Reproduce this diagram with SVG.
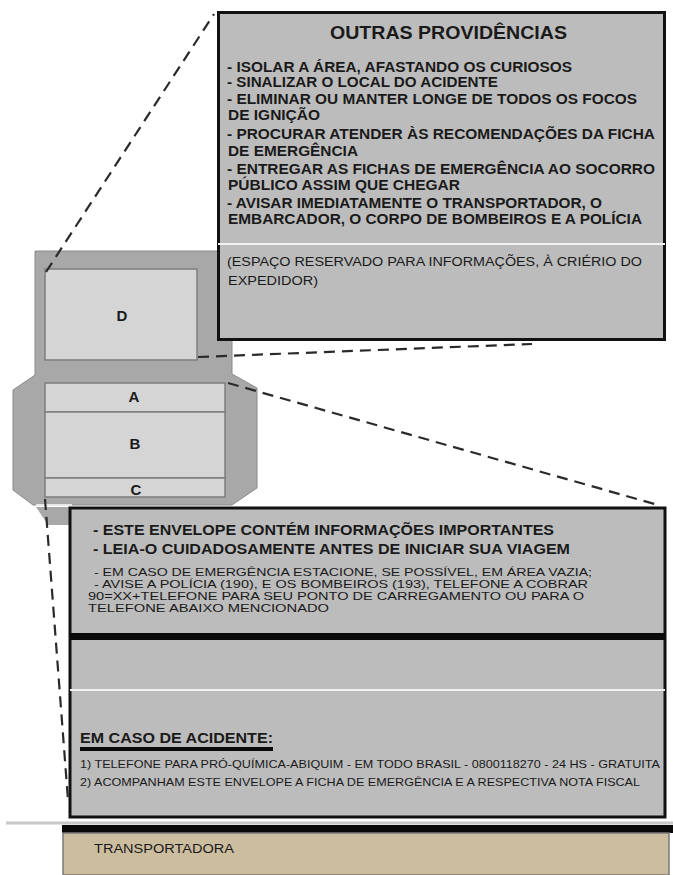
<svg xmlns="http://www.w3.org/2000/svg" width="673" height="875" viewBox="0 0 673 875">
<style>
text{font-family:"Liberation Sans",Arial,sans-serif;fill:#1a1a1a}
.b{font-weight:bold}
.t14{font-size:14px;font-weight:bold}
.t12{font-size:12px}
.t10{font-size:10.5px}
.t11{font-size:11px}
.lbl{font-size:15px;font-weight:bold;text-anchor:middle}
.inner{fill:#d5d5d5;stroke:#7d7d7d;stroke-width:1.5}
.box{fill:#bcbcbc;stroke:#111;stroke-width:3}
.dash{fill:none;stroke:#2a2a2a;stroke-width:2.2;stroke-dasharray:11 7}
.wl{stroke:#f2f2f2;stroke-width:2}
</style>
<rect width="673" height="875" fill="#ffffff"/>
<g id="envelope">
<polygon points="35,251 232,251 232,374 257,388 257,488 232,505 33,505 13,490 13,390 35,375" fill="#a8a8a8" stroke="#8a8a8a" stroke-width="1"/>
<polygon points="36,507 72,507 72,525 48,525" fill="#a8a8a8"/>
<line x1="36" y1="505" x2="72" y2="505" stroke="#e8e8e8" stroke-width="2"/>
</g>
<g id="node-D">
<rect class="inner" x="45" y="269" width="152" height="91"/>
<text class="lbl" x="122" y="321">D</text>
</g>
<g id="node-A">
<rect class="inner" x="45" y="383" width="180" height="29"/>
<text class="lbl" x="134" y="402">A</text>
</g>
<g id="node-B">
<rect class="inner" x="45" y="412" width="180" height="66"/>
<text class="lbl" x="135" y="449">B</text>
</g>
<g id="node-C">
<rect class="inner" x="45" y="478" width="180" height="19"/>
<text class="lbl" x="136" y="495">C</text>
</g>
<g id="node-outras">
<rect class="box" x="218.5" y="12.5" width="446" height="327"/>
<line class="wl" x1="218" y1="244" x2="665" y2="244"/>
<text class="b" x="330" y="38.5" font-size="18" textLength="237" lengthAdjust="spacingAndGlyphs">OUTRAS PROVIDÊNCIAS</text>
<text class="t14" x="227" y="72" textLength="345" lengthAdjust="spacingAndGlyphs">- ISOLAR A ÁREA, AFASTANDO OS CURIOSOS</text>
<text class="t14" x="227" y="87" textLength="271" lengthAdjust="spacingAndGlyphs">- SINALIZAR O LOCAL DO ACIDENTE</text>
<text class="t14" x="227" y="104" textLength="410" lengthAdjust="spacingAndGlyphs">- ELIMINAR OU MANTER LONGE DE TODOS OS FOCOS</text>
<text class="t14" x="228" y="120" textLength="92" lengthAdjust="spacingAndGlyphs">DE IGNIÇÃO</text>
<text class="t14" x="227" y="139" textLength="428" lengthAdjust="spacingAndGlyphs">- PROCURAR ATENDER ÀS RECOMENDAÇÕES DA FICHA</text>
<text class="t14" x="228" y="156" textLength="130" lengthAdjust="spacingAndGlyphs">DE EMERGÊNCIA</text>
<text class="t14" x="227" y="174" textLength="428" lengthAdjust="spacingAndGlyphs">- ENTREGAR AS FICHAS DE EMERGÊNCIA AO SOCORRO</text>
<text class="t14" x="228" y="190" textLength="232" lengthAdjust="spacingAndGlyphs">PÚBLICO ASSIM QUE CHEGAR</text>
<text class="t14" x="227" y="208" textLength="375" lengthAdjust="spacingAndGlyphs">- AVISAR IMEDIATAMENTE O TRANSPORTADOR, O</text>
<text class="t14" x="228" y="224" textLength="414" lengthAdjust="spacingAndGlyphs">EMBARCADOR, O CORPO DE BOMBEIROS E A POLÍCIA</text>
<text class="t12" x="227" y="265.5" textLength="415" lengthAdjust="spacingAndGlyphs">(ESPAÇO RESERVADO PARA INFORMAÇÕES, À CRIÉRIO DO</text>
<text class="t12" x="228" y="284.5" textLength="90" lengthAdjust="spacingAndGlyphs">EXPEDIDOR)</text>
</g>
<g id="node-envelope-info">
<rect class="box" x="70" y="508" width="595" height="309"/>
<rect x="70" y="633" width="595" height="7" fill="#0a0a0a"/>
<line class="wl" x1="70" y1="690" x2="665" y2="690"/>
<text class="t14" x="93" y="535" textLength="461" lengthAdjust="spacingAndGlyphs">- ESTE ENVELOPE CONTÉM INFORMAÇÕES IMPORTANTES</text>
<text class="t14" x="93" y="554" textLength="477" lengthAdjust="spacingAndGlyphs">- LEIA-O CUIDADOSAMENTE ANTES DE INICIAR SUA VIAGEM</text>
<text class="t10" x="94" y="576" textLength="498" lengthAdjust="spacingAndGlyphs">- EM CASO DE EMERGÊNCIA ESTACIONE, SE POSSÍVEL, EM ÁREA VAZIA;</text>
<text class="t10" x="94" y="588" textLength="494" lengthAdjust="spacingAndGlyphs">- AVISE A POLÍCIA (190), E OS BOMBEIROS (193), TELEFONE A COBRAR</text>
<text class="t10" x="88" y="600" textLength="496" lengthAdjust="spacingAndGlyphs">90=XX+TELEFONE PARA SEU PONTO DE CARREGAMENTO OU PARA O</text>
<text class="t10" x="88" y="612" textLength="241" lengthAdjust="spacingAndGlyphs">TELEFONE ABAIXO MENCIONADO</text>
<text class="b" x="80" y="742.5" font-size="15" textLength="193" lengthAdjust="spacingAndGlyphs">EM CASO DE ACIDENTE:</text>
<rect x="80" y="747" width="193" height="4" fill="#0a0a0a"/>
<text class="t11" x="80" y="768" textLength="580" lengthAdjust="spacingAndGlyphs">1) TELEFONE PARA PRÓ-QUÍMICA-ABIQUIM - EM TODO BRASIL - 0800118270 - 24 HS - GRATUITA</text>
<text class="t11" x="80" y="786" textLength="560" lengthAdjust="spacingAndGlyphs">2) ACOMPANHAM ESTE ENVELOPE A FICHA DE EMERGÊNCIA E A RESPECTIVA NOTA FISCAL</text>
</g>
<g id="node-transportadora">
<line x1="6" y1="823" x2="673" y2="823" stroke="#c8c8c8" stroke-width="3"/>
<rect x="62" y="825" width="611" height="8" fill="#0a0a0a"/>
<rect x="63" y="833" width="606" height="42" fill="#cbbd9e" stroke="#7a7a7a" stroke-width="1.5"/>
<text class="t12" x="94" y="853" textLength="140" lengthAdjust="spacingAndGlyphs">TRANSPORTADORA</text>
</g>
<g id="connectors">
<line class="dash" x1="46" y1="272" x2="214" y2="14"/>
<line class="dash" x1="198" y1="357" x2="532" y2="344"/>
<line class="dash" x1="228" y1="383" x2="658" y2="505"/>
<line class="dash" x1="45" y1="499" x2="68" y2="800"/>
</g>
</svg>
